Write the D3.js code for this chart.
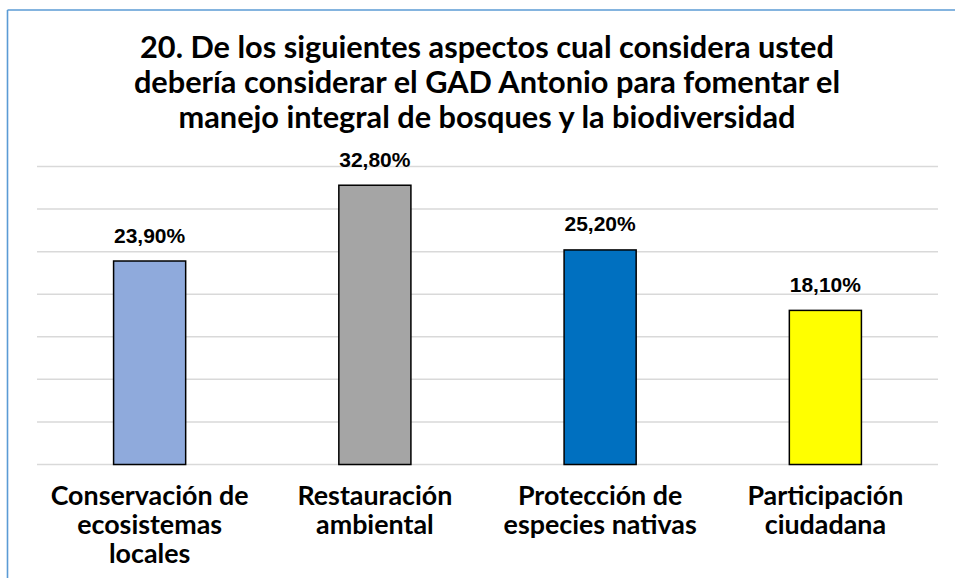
<!DOCTYPE html>
<html>
<head>
<meta charset="utf-8">
<script src="https://cdn.jsdelivr.net/npm/d3@7"></script>
<style>
  html, body { margin: 0; padding: 0; background: #fff; }
  svg { display: block; }
</style>
</head>
<body>
<svg id="chart" width="955" height="578"></svg>
<script>
// ---- data ----
const titleLines = [
  "20. De los siguientes aspectos cual considera usted",
  "debería considerar el GAD Antonio para fomentar el",
  "manejo integral de bosques y la biodiversidad"
];
const categories = [
  ["Conservación de", "ecosistemas", "locales"],
  ["Restauración", "ambiental"],
  ["Protección de", "especies nativas"],
  ["Participación", "ciudadana"]
];
const values = [23.9, 32.8, 25.2, 18.1];
const labels = ["23,90%", "32,80%", "25,20%", "18,10%"];
const colors = ["#8faadc", "#a5a5a5", "#0070c0", "#ffff00"];
const yTicks = [0, 5, 10, 15, 20, 25, 30, 35];

// ---- layout ----
const W = 955, H = 578;
const plot = { left: 37, right: 938, top: 166.5, bottom: 464.5 };
const svg = d3.select("#chart");

// frame
svg.append("line").attr("x1", 7.5).attr("x2", W + 5).attr("y1", 10).attr("y2", 10)
  .attr("stroke", "#5b9bd5").attr("stroke-width", 1.6);
svg.append("line").attr("x1", 7.5).attr("x2", 7.5).attr("y1", 10).attr("y2", H + 5)
  .attr("stroke", "#5b9bd5").attr("stroke-width", 1.6);

const x = d3.scaleBand()
  .domain(d3.range(categories.length))
  .range([plot.left, plot.right])
  .paddingInner(0.68).paddingOuter(0.34);
const y = d3.scaleLinear().domain([0, 35]).range([plot.bottom, plot.top]);

// gridlines
svg.append("g").selectAll("line").data(yTicks).join("line")
  .attr("x1", plot.left).attr("x2", plot.right)
  .attr("y1", d => y(d)).attr("y2", d => y(d))
  .attr("stroke", "#d9d9d9").attr("stroke-width", 1.5);

// bars
svg.append("g").selectAll("rect").data(values).join("rect")
  .attr("x", (d, i) => x(i))
  .attr("width", x.bandwidth())
  .attr("y", d => y(d))
  .attr("height", d => y(0) - y(d))
  .attr("fill", (d, i) => colors[i])
  .attr("stroke", "#000").attr("stroke-width", 1.5);

// value labels
svg.append("g").selectAll("text").data(values).join("text")
  .attr("x", (d, i) => x(i) + x.bandwidth() / 2)
  .attr("y", d => y(d) - 18.5)
  .attr("text-anchor", "middle")
  .attr("font-family", "'Liberation Sans', Arial, sans-serif")
  .attr("font-weight", "bold")
  .attr("font-size", 21)
  .attr("fill", "#000")
  .text((d, i) => labels[i]);

// fit helper
function fitSize(sel, targetW, base) {
  const w = sel.node().getComputedTextLength();
  return base * targetW / w;
}

const headFont = "Lato, 'Open Sans', sans-serif";

// title
const tg = svg.append("g");
const tl = tg.selectAll("text").data(titleLines).join("text")
  .attr("x", 487)
  .attr("y", (d, i) => 58 + i * 35)
  .attr("text-anchor", "middle")
  .attr("font-family", headFont)
  .attr("font-weight", "bold")
  .attr("font-size", 24)
  .attr("fill", "#000")
  .text(d => d);
const ts = fitSize(d3.select(tl.nodes()[0]), 694, 24);
tl.attr("font-size", ts);

// category labels
const cg = svg.append("g");
const cl = cg.selectAll("text").data(categories).join("text")
  .attr("x", (d, i) => x(i) + x.bandwidth() / 2)
  .attr("y", 505)
  .attr("text-anchor", "middle")
  .attr("font-family", headFont)
  .attr("font-weight", "bold")
  .attr("font-size", 20)
  .attr("fill", "#000");
cl.selectAll("tspan").data(d => d).join("tspan")
  .attr("x", function() { return d3.select(this.parentNode).attr("x"); })
  .attr("dy", (d, i) => i === 0 ? 0 : 29)
  .text(d => d);
const probe = svg.append("text").attr("font-family", headFont).attr("font-weight", "bold")
  .attr("font-size", 20).text(categories[0][0]);
const cs = fitSize(probe, 198, 20);
probe.remove();
cl.attr("font-size", cs);
</script>
</body>
</html>
